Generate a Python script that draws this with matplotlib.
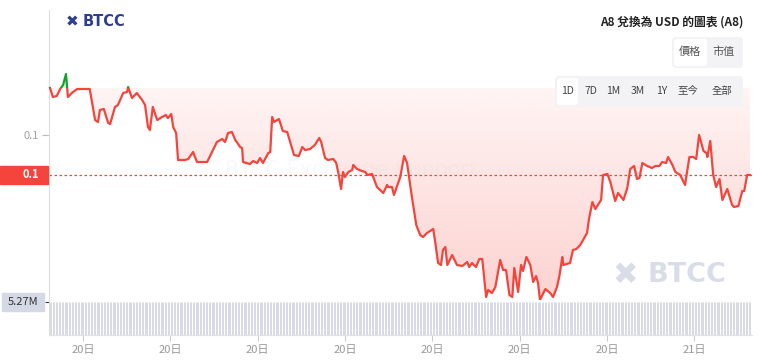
import numpy as np
import matplotlib
matplotlib.use("Agg")
import matplotlib.pyplot as plt
import matplotlib.transforms as mtransforms
from matplotlib.patches import Rectangle, FancyBboxPatch
from matplotlib.path import Path

plt.rcParams['font.family'] = ['Noto Sans CJK TC', 'DejaVu Sans']

# minutes since 20日 00:00
minutes = [112, 118, 126, 133, 139, 145, 149, 157, 168, 194,
           205, 211, 215, 223, 232, 236, 246, 252, 263, 271,
           273, 281, 291, 302, 308, 314, 318, 324, 333, 343,
           351, 355, 362, 366, 372, 376, 390, 397, 407, 415,
           436, 446, 456, 467, 473, 479, 487, 494, 504, 508,
           510, 524, 531, 539, 545, 551, 562, 566, 570, 574,
           584, 592, 601, 615, 625, 632, 638, 648, 658, 667,
           671, 679, 685, 696, 702, 706, 712, 716, 720, 727,
           735, 737, 745, 755, 762, 766, 776, 786, 799, 807,
           809, 817, 821, 834, 842, 848, 858, 867, 875, 881,
           889, 902, 906, 912, 918, 922, 927, 931, 941, 951,
           962, 972, 976, 982, 990, 997, 1003, 1011, 1015, 1023,
           1030, 1040, 1046, 1052, 1059, 1065, 1069, 1077, 1083, 1087,
           1094, 1102, 1108, 1114, 1118, 1122, 1133, 1143, 1149, 1157,
           1162, 1168, 1170, 1184, 1190, 1197, 1205, 1219, 1223, 1230,
           1236, 1248, 1252, 1261, 1267, 1277, 1283, 1294, 1302, 1308,
           1316, 1322, 1327, 1333, 1343, 1353, 1360, 1368, 1374, 1382,
           1386, 1395, 1401, 1411, 1421, 1430, 1438, 1444, 1450, 1459,
           1465, 1467, 1473, 1479, 1485, 1492, 1498, 1508, 1518, 1522,
           1531, 1539, 1543, 1549, 1555]

prices = [0.1212, 0.1203, 0.1204, 0.1211, 0.1215, 0.1226, 0.1203, 0.1207, 0.1211, 0.1211,
          0.1180, 0.1178, 0.1190, 0.1191, 0.1177, 0.1176, 0.1193, 0.1195, 0.1207, 0.1208,
          0.1213, 0.1202, 0.1207, 0.1200, 0.1195, 0.1173, 0.1170, 0.1193, 0.1180, 0.1183,
          0.1185, 0.1182, 0.1186, 0.1173, 0.1167, 0.1140, 0.1140, 0.1141, 0.1148, 0.1138,
          0.1138, 0.1148, 0.1158, 0.1161, 0.1158, 0.1167, 0.1168, 0.1160, 0.1153, 0.1152,
          0.1138, 0.1136, 0.1139, 0.1137, 0.1142, 0.1137, 0.1147, 0.1148, 0.1183, 0.1178,
          0.1181, 0.1169, 0.1168, 0.1145, 0.1144, 0.1153, 0.1150, 0.1151, 0.1155, 0.1162,
          0.1158, 0.1142, 0.1140, 0.1141, 0.1137, 0.1128, 0.1111, 0.1128, 0.1123, 0.1128,
          0.1130, 0.1135, 0.1131, 0.1129, 0.1128, 0.1125, 0.1126, 0.1113, 0.1107, 0.1115,
          0.1113, 0.1113, 0.1105, 0.1123, 0.1144, 0.1137, 0.1103, 0.1075, 0.1065, 0.1063,
          0.1067, 0.1071, 0.1058, 0.1037, 0.1035, 0.1050, 0.1053, 0.1035, 0.1045, 0.1035,
          0.1034, 0.1038, 0.1033, 0.1037, 0.1033, 0.1041, 0.1041, 0.1003, 0.1010, 0.1007,
          0.1013, 0.1040, 0.1030, 0.1030, 0.1005, 0.1003, 0.1032, 0.1008, 0.1035, 0.1029,
          0.1043, 0.1035, 0.1018, 0.1024, 0.1017, 0.1000, 0.1011, 0.1007, 0.1003, 0.1013,
          0.1024, 0.1043, 0.1035, 0.1037, 0.1050, 0.1051, 0.1055, 0.1067, 0.1081, 0.1098,
          0.1091, 0.1100, 0.1125, 0.1126, 0.1118, 0.1099, 0.1107, 0.1100, 0.1112, 0.1131,
          0.1134, 0.1121, 0.1122, 0.1137, 0.1134, 0.1132, 0.1134, 0.1134, 0.1138, 0.1137,
          0.1143, 0.1135, 0.1128, 0.1125, 0.1115, 0.1143, 0.1143, 0.1141, 0.1165, 0.1149,
          0.1147, 0.1143, 0.1159, 0.1125, 0.1113, 0.1121, 0.1100, 0.1111, 0.1095, 0.1093,
          0.1094, 0.1109, 0.1109, 0.1125, 0.1125]

# volume pane: every bar sits at the 5.27M cap
volume_times = np.arange(112, 1556, 3)
volume_cap = 5.27e6
volumes = np.full(len(volume_times), volume_cap)

tick_minutes = [180, 360, 540, 720, 900, 1080, 1260, 1440]
tick_labels = ['20日', '20日', '20日', '20日', '20日', '20日', '20日', '21日']
price_tick = 0.1165
range_buttons = ['1D', '7D', '1M', '3M', '1Y', '至今', '全部']

RED = '#f5443c'
GREEN = '#12a52a'
W, H = 765, 364

t = np.array(minutes, dtype=float)
p = np.array(prices)
base = p[0]
last = p[-1]

fig = plt.figure(figsize=(W / 100, H / 100), dpi=100)


def rect(x0, y0, x1, y1):
    return [x0 / W, 1 - y1 / H, (x1 - x0) / W, (y1 - y0) / H]


ax = fig.add_axes(rect(49, 10, 752, 300))
vax = fig.add_axes(rect(49, 300, 752, 335), sharex=ax)
ax.set_xlim(110, 1559)
ax.set_ylim(0.1000, 0.1290)

# gradient fill between baseline and line (below baseline)
fill = ax.fill_between(t, p, base, where=p <= base, interpolate=True, color='none')
clip = Path.make_compound_path(*fill.get_paths())
alpha = np.linspace(0.24, 0.06, 200)
grad = np.zeros((200, 1, 4))
grad[:, 0, 0] = 245 / 255
grad[:, 0, 1] = 68 / 255
grad[:, 0, 2] = 60 / 255
grad[:, 0, 3] = alpha
im = ax.imshow(grad, extent=[110, 1559, 0.1000, base], origin='lower',
               aspect='auto', zorder=1, interpolation='bilinear')
im.set_clip_path(clip, transform=ax.transData)
ax.fill_between(t, p, base, where=p >= base, interpolate=True,
                color=GREEN, alpha=0.12, lw=0, zorder=1)
ax.set_ylim(0.1000, 0.1290)
ax.set_xlim(110, 1559)

# line, red below the baseline and green above it
red_line, = ax.plot(t, p, color=RED, lw=1.6, zorder=3, solid_joinstyle='round')
red_line.set_clip_path(Rectangle((0, 0.05), 3000, base - 0.05, transform=ax.transData))
green_line, = ax.plot(t, p, color=GREEN, lw=1.6, zorder=3, solid_joinstyle='round')
green_line.set_clip_path(Rectangle((0, base), 3000, 0.1, transform=ax.transData))

ax.axhline(last, color=RED, lw=0.9, ls=(0, (2, 2)), zorder=2)

ax.set_yticks([price_tick])
ax.yaxis.set_major_formatter('{x:.1f}')
ax.tick_params(axis='y', length=5, color='#bbbbbb', labelcolor='#a0a0a0',
               labelsize=8, pad=2)
ax.tick_params(axis='x', bottom=False, labelbottom=False)
for s in ['top', 'right', 'bottom']:
    ax.spines[s].set_visible(False)
ax.spines['left'].set_color('#dddddd')

# watermark text
ax.text(0.43, 0.45, 'BTCC Exchange Support', transform=ax.transAxes, ha='center',
        va='center', fontsize=15, color='#d8d8d8', alpha=0.15, zorder=2,
        family=['DejaVu Sans'])

# volume bars
vax.vlines(volume_times, 0, volumes, color='#cdd1df', lw=0.55)
vax.set_ylim(0, volume_cap * 35 / 33)
vax.set_yticks([volume_cap])
vax.tick_params(axis='y', length=3, color='#333333', labelleft=False)
vax.set_xticks(tick_minutes)
vax.set_xticklabels(tick_labels)
vax.tick_params(axis='x', length=4, color='#cccccc', labelcolor='#999999',
                labelsize=8, pad=3)
for s in ['top', 'right']:
    vax.spines[s].set_visible(False)
vax.spines['left'].set_color('#dddddd')
vax.spines['bottom'].set_color('#e2e2e2')

# overlay in pixel coordinates for the page decorations
ov = fig.add_axes([0, 0, 1, 1])
ov.set_xlim(0, W)
ov.set_ylim(H, 0)
ov.axis('off')

# current price label box and volume label box
tr = mtransforms.blended_transform_factory(ov.transData, ax.transData)
ph = 18 * 0.0290 / 290
ax.add_patch(Rectangle((0, last - ph / 2), 48, ph, transform=tr, color=RED,
                       clip_on=False, zorder=5))
ax.text(31, last, '{:.1f}'.format(last), transform=tr, ha='center', va='center',
        color='white', fontsize=8, fontweight='bold', zorder=6, clip_on=False)

vtr = mtransforms.blended_transform_factory(ov.transData, vax.transData)
vh = 18 * (volume_cap * 35 / 33) / 35
vax.add_patch(Rectangle((2, volume_cap - vh / 2), 42, vh, transform=vtr,
                        color='#d5d9e6', clip_on=False, zorder=5))
vax.text(23, volume_cap, '{:.2f}M'.format(volume_cap / 1e6), transform=vtr,
         ha='center', va='center', color='#333333', fontsize=8, zorder=6,
         clip_on=False)

# logo top-left
ov.text(72, 22, '✖', ha='center', va='center', fontsize=11, color='#2d3e92',
        family=['DejaVu Sans'])
ov.text(83, 22, 'BTCC', ha='left', va='center', fontsize=10.5,
        fontweight='bold', color='#2d3e92', family=['DejaVu Sans'])

# watermark logo bottom-right
ov.text(625, 275, '✖', ha='center', va='center', fontsize=22, color='#d9dde8',
        family=['DejaVu Sans'])
ov.text(648, 275, 'BTCC', ha='left', va='center', fontsize=19.5,
        fontweight='bold', color='#d9dde8', family=['DejaVu Sans'])

# title
ov.text(743, 22, 'A8 兌換為 USD 的圖表 (A8)', ha='right', va='center',
        fontsize=8.5, fontweight='bold', color='#222222')

# price / market cap buttons
ov.add_patch(FancyBboxPatch((672, 37), 71, 31, boxstyle='round,pad=0,rounding_size=4',
                            fc='#f3f3f5', ec='none'))
ov.add_patch(FancyBboxPatch((674, 39), 33, 27, boxstyle='round,pad=0,rounding_size=3',
                            fc='white', ec='none'))
ov.text(690, 52, '價格', ha='center', va='center', fontsize=8, color='#555555')
ov.text(724, 52, '市值', ha='center', va='center', fontsize=8, color='#555555')

# range buttons
ov.add_patch(FancyBboxPatch((555, 76), 188, 31, boxstyle='round,pad=0,rounding_size=4',
                            fc='#f3f3f5', ec='none'))
ov.add_patch(FancyBboxPatch((557, 78), 21, 27, boxstyle='round,pad=0,rounding_size=3',
                            fc='white', ec='none'))
button_x = [568, 591, 613, 638, 662, 688, 722]
for bx, lab in zip(button_x, range_buttons):
    ov.text(bx, 91, lab, ha='center', va='center', fontsize=7.5, color='#444444')

fig.savefig('out.png', dpi=100)
